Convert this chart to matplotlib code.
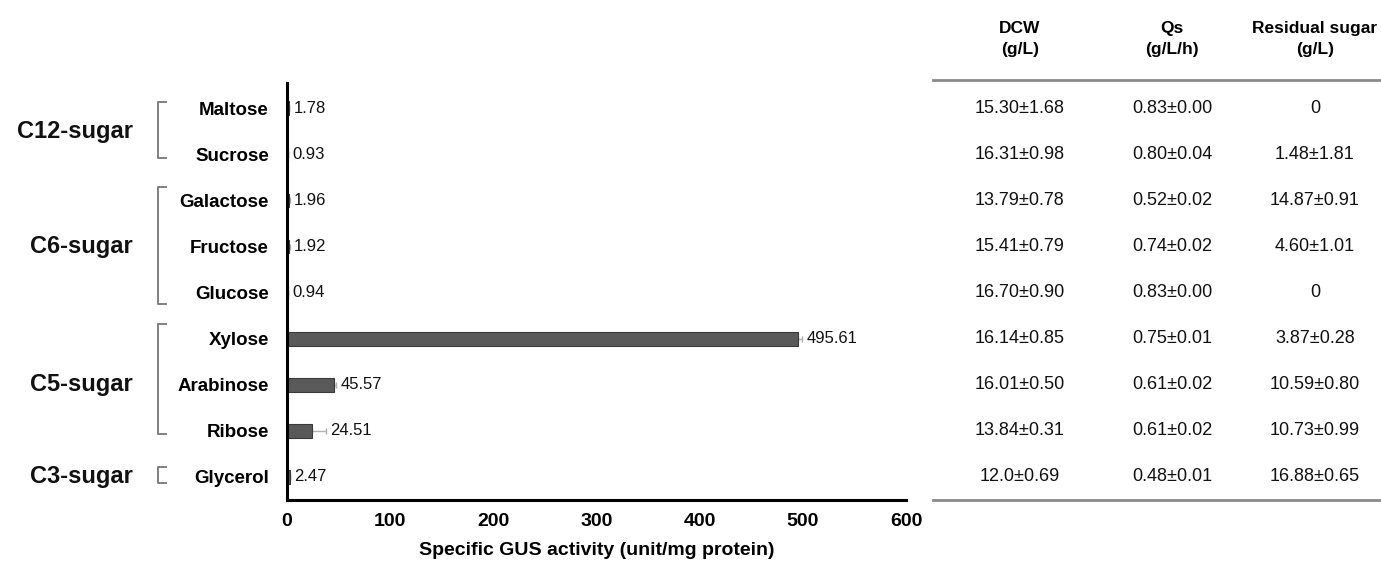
import matplotlib
matplotlib.use("Agg")
import matplotlib.pyplot as plt
import matplotlib.transforms as mtransforms
import numpy as np

# sugars, top to bottom
sugars = ["Maltose", "Sucrose", "Galactose", "Fructose", "Glucose",
          "Xylose", "Arabinose", "Ribose", "Glycerol"]
gus_activity = [1.78, 0.93, 1.96, 1.92, 0.94, 495.61, 45.57, 24.51, 2.47]
gus_err = [0.5, 0.3, 0.8, 0.6, 0.3, 4.0, 2.0, 13.0, 0.5]

# sugar groups: label, first and last row
groups = [("C12-sugar", 0, 1), ("C6-sugar", 2, 4),
          ("C5-sugar", 5, 7), ("C3-sugar", 8, 8)]

# fermentation table
table_headers = ["DCW\n(g/L)", "Qs\n(g/L/h)", "Residual sugar\n(g/L)"]
dcw = ["15.30\u00b11.68", "16.31\u00b10.98", "13.79\u00b10.78", "15.41\u00b10.79",
       "16.70\u00b10.90", "16.14\u00b10.85", "16.01\u00b10.50", "13.84\u00b10.31",
       "12.0\u00b10.69"]
qs = ["0.83\u00b10.00", "0.80\u00b10.04", "0.52\u00b10.02", "0.74\u00b10.02",
      "0.83\u00b10.00", "0.75\u00b10.01", "0.61\u00b10.02", "0.61\u00b10.02",
      "0.48\u00b10.01"]
residual = ["0", "1.48\u00b11.81", "14.87\u00b10.91", "4.60\u00b11.01", "0",
            "3.87\u00b10.28", "10.59\u00b10.80", "10.73\u00b10.99", "16.88\u00b10.65"]

plt.rcParams['font.family'] = ['Liberation Sans', 'DejaVu Sans']

W, H = 1381, 566
fig = plt.figure(figsize=(W / 100, H / 100), dpi=100)
ax = fig.add_axes([287 / W, 1 - 500 / H, (906 - 287) / W, (500 - 83) / H])

y = np.arange(len(sugars))
ax.barh(y, gus_activity, height=0.3, color="#595959", edgecolor="#3a3a3a",
        linewidth=0.8, zorder=2)
ax.errorbar(gus_activity, y, xerr=[np.zeros(len(y)), gus_err], fmt="none",
            ecolor="#b0b0b0", elinewidth=1.0, capsize=2, capthick=1.0, zorder=1)

for yi, v, e in zip(y, gus_activity, gus_err):
    ax.annotate(f"{v:.2f}", xy=(v + e, yi), xytext=(3, 0),
                textcoords="offset points", va="center", ha="left",
                fontsize=12, color="#111111")

ax.set_xlim(0, 600)
ax.set_ylim(8.5, -0.55)
ax.set_xticks(np.arange(0, 601, 100))
ax.set_yticks(y)
ax.set_yticklabels(sugars, fontsize=13.5, fontweight="bold")
ax.tick_params(axis="y", length=0, pad=13)
ax.tick_params(axis="x", length=0, pad=9, labelsize=14)
for lab in ax.get_xticklabels():
    lab.set_fontweight("bold")
ax.set_xlabel("Specific GUS activity (unit/mg protein)", fontsize=14,
              fontweight="bold", labelpad=9)

for side in ["top", "right"]:
    ax.spines[side].set_visible(False)
for side in ["left", "bottom"]:
    ax.spines[side].set_linewidth(2.2)
    ax.spines[side].set_color("black")

# group brackets and labels (x in figure pixels, y in data rows)
trans = mtransforms.blended_transform_factory(
    mtransforms.Affine2D().scale(1 / W, 1) + fig.transFigure, ax.transData)
bracket_ext = {"C12-sugar": (-0.13, 0.07), "C6-sugar": (-0.3, 0.24),
               "C5-sugar": (-0.32, 0.07), "C3-sugar": (-0.22, 0.13)}
for name, first, last in groups:
    top = first + bracket_ext[name][0]
    bot = last + bracket_ext[name][1]
    ax.plot([166, 158, 158, 166], [top, top, bot, bot], color="#808080",
            lw=1.4, transform=trans, clip_on=False)
    ax.text(133, (first + last) / 2, name, transform=trans, ha="right",
            va="center", fontsize=17, fontweight="bold", color="#111111")

# table on the right
col_x = [1020, 1172, 1315]
for cx, head in zip(col_x, table_headers):
    fig.text(cx / W, 1 - 39 / H, head, ha="center", va="center",
             fontsize=12.5, fontweight="bold", linespacing=1.55)
for cx, col in zip(col_x, [dcw, qs, residual]):
    for yi, txt in zip(y, col):
        ax.text(cx, yi, txt, transform=trans, ha="center", va="center",
                fontsize=13, color="#111111")

for yl in [80, 500]:
    fig.add_artist(plt.Line2D([933 / W, 1.0], [1 - yl / H, 1 - yl / H],
                              color="#8a8a8a", lw=2.0))

fig.savefig("out.png", dpi=100)
